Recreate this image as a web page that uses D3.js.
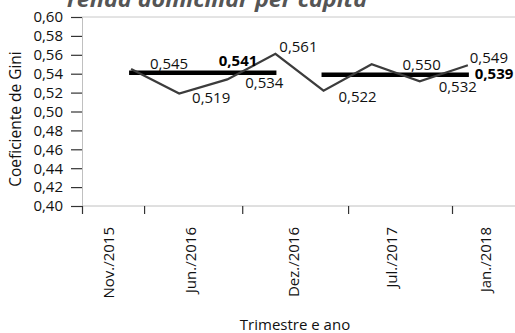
<!DOCTYPE html>
<html>
<head>
<meta charset="utf-8">
<script src="https://cdn.jsdelivr.net/npm/d3@7"></script>
<style>
  html, body { margin: 0; padding: 0; background: #fff; }
  svg { display: block; font-family: "Open Sans", "Noto Sans", sans-serif; }
</style>
</head>
<body>
<svg id="chart" width="515" height="333"></svg>
<script>
// ---- data ----
const titleText = "renda domiciliar per capita";
const yAxisTitle = "Coeficiente de Gini";
const xAxisTitle = "Trimestre e ano";
const giniValues = [0.545, 0.519, 0.534, 0.561, 0.522, 0.550, 0.532, 0.549];
const pointIndex = [0, 1, 2, 3, 4, 5, 6, 7];
const meanValues = [0.541, 0.539];
const meanStart = [0, 4];
const meanEnd = [3, 7];
const yTicks = [0.40, 0.42, 0.44, 0.46, 0.48, 0.50, 0.52, 0.54, 0.56, 0.58, 0.60];
const xTickPositions = [-1.02, 0.27, 2.31, 4.51, 6.67];
const xLabels = ["Nov./2015", "Jun./2016", "Dez./2016", "Jul./2017", "Jan./2018"];
const xLabelPositions = [-0.35, 1.35, 3.49, 5.53, 7.48];

// ---- layout ----
const svg = d3.select("#chart");
const mLeft = 82, mRight = 516, mTop = 17, mBottom = 206;
const x = d3.scaleLinear().domain([-1.02, 8]).range([mLeft, mRight]);
const y = d3.scaleLinear().domain([0.40, 0.60]).range([mBottom, mTop]);
const fmt = v => d3.format(".3f")(v).replace(".", ",");
const fmt2 = v => d3.format(".2f")(v).replace(".", ",");
const textColor = "#111";

// label offsets (pixels) relative to each point
const labelOffsets = [[38, 0], [32, 9.5], [37, 8.6], [23, -2], [34, 11], [50, 6], [38, 11], [21, -2.5]];
const meanLabelPos = [[238, 66], [494, 79]];

// title (cut at top)
svg.append("text")
  .attr("x", 67).attr("y", 7)
  .attr("font-size", 22).attr("font-weight", "bold").attr("font-style", "italic")
  .attr("fill", "#555").attr("textLength", 300).attr("lengthAdjust", "spacingAndGlyphs")
  .text(titleText);

// top boundary line
svg.append("line")
  .attr("x1", mLeft).attr("x2", 515).attr("y1", y(0.60)).attr("y2", y(0.60))
  .attr("stroke", "#c8c8c8").attr("stroke-width", 1);

// y axis
const yAxis = d3.axisLeft(y).tickValues(yTicks).tickSize(11).tickPadding(8).tickFormat(fmt2);
const gy = svg.append("g").attr("transform", `translate(${mLeft},0)`).call(yAxis);
gy.select(".domain").attr("stroke", "#c0c0c0");
gy.selectAll(".tick line").attr("stroke", "#333").attr("stroke-width", 1.2);
gy.selectAll(".tick text").attr("font-size", 15).attr("fill", textColor)
  .attr("font-family", "Open Sans");

// x axis
const xAxis = d3.axisBottom(x).tickValues(xTickPositions).tickSize(8).tickFormat("");
const gx = svg.append("g").attr("transform", `translate(0,${mBottom})`).call(xAxis);
gx.select(".domain").attr("stroke", "#c0c0c0").attr("d", `M${mLeft},0H515`);
gx.selectAll(".tick line").attr("stroke", "#333").attr("stroke-width", 1.2);

// x labels (rotated)
svg.append("g").selectAll("text").data(xLabels).join("text")
  .attr("transform", (d, i) => `translate(${x(xLabelPositions[i])},227) rotate(-90)`)
  .attr("text-anchor", "end")
  .attr("font-size", 15).attr("fill", textColor)
  .text(d => d);

// axis titles
svg.append("text")
  .attr("transform", `translate(21,119) rotate(-90)`)
  .attr("text-anchor", "middle").attr("font-size", 15.5).attr("fill", textColor)
  .text(yAxisTitle);
svg.append("text")
  .attr("x", 295).attr("y", 330)
  .attr("text-anchor", "middle").attr("font-size", 15).attr("fill", textColor)
  .text(xAxisTitle);

// mean lines
svg.append("g").selectAll("line").data(meanValues).join("line")
  .attr("x1", (d, i) => x(meanStart[i]) - 2)
  .attr("x2", (d, i) => x(meanEnd[i]) + 1)
  .attr("y1", d => y(d)).attr("y2", d => y(d))
  .attr("stroke", "#000").attr("stroke-width", 4.5);

// data line
const line = d3.line().x((d, i) => x(pointIndex[i])).y(d => y(d));
svg.append("path").datum(giniValues)
  .attr("d", line).attr("fill", "none")
  .attr("stroke", "#3c3c3c").attr("stroke-width", 2.2).attr("stroke-linejoin", "miter");

// point labels
svg.append("g").selectAll("text").data(giniValues).join("text")
  .attr("x", (d, i) => x(pointIndex[i]) + labelOffsets[i][0])
  .attr("y", (d, i) => y(d) + labelOffsets[i][1])
  .attr("text-anchor", "middle").attr("font-size", 15).attr("fill", textColor)
  .text(d => fmt(d));

// mean labels
svg.append("g").selectAll("text").data(meanValues).join("text")
  .attr("x", (d, i) => meanLabelPos[i][0])
  .attr("y", (d, i) => meanLabelPos[i][1])
  .attr("text-anchor", "middle").attr("font-size", 15).attr("font-weight", "bold").attr("fill", "#000")
  .text(d => fmt(d));
</script>
</body>
</html>
